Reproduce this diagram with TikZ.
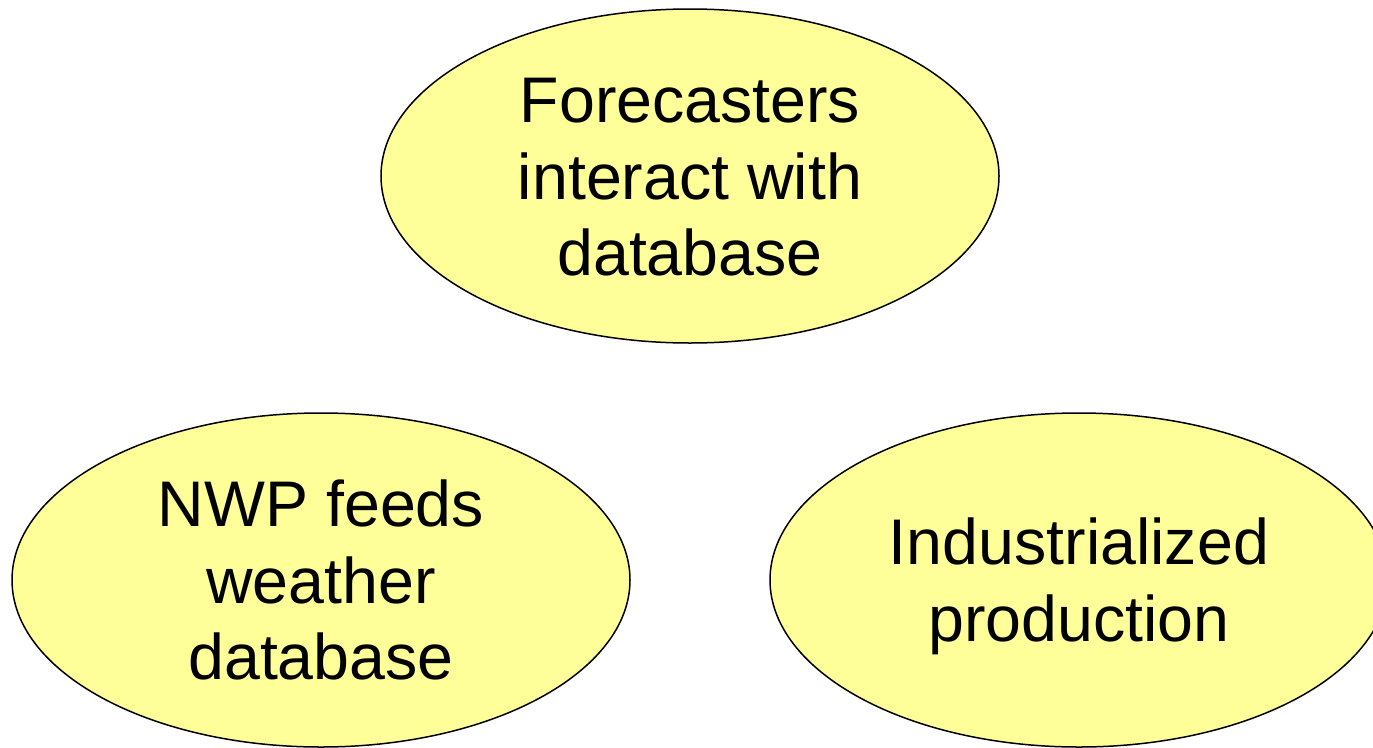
\documentclass[tikz,border=0pt]{standalone}
\usepackage{fontspec}
\setmainfont{Liberation Sans}
\usetikzlibrary{shapes.geometric}
\definecolor{paleyellow}{HTML}{FFFF99}
% The text box's baseline is its last line; its height runs from the cap line of
% the first line (cap height 46.2pt) down over (lines-1) baselineskips of 76.5pt.
\tikzset{
  bubble/.style={ellipse, draw=black, line width=1.5pt, fill=paleyellow,
    minimum width=618pt, minimum height=334pt, inner sep=0pt,
    align=center, font=\fontsize{64.5}{76.5}\selectfont, text depth=0pt},
  two lines/.style={text height=122.7pt},
  three lines/.style={text height=199.2pt}
}
\begin{document}
\begin{tikzpicture}[x=1pt, y=-1pt]
  \useasboundingbox (0,0) rectangle (1373,747);
  \node[bubble, three lines] (forecasters) at (690,176) {Forecasters\\interact with\\database};
  \node[bubble, three lines] (nwp) at (321,580) {NWP feeds\\weather\\database};
  \node[bubble, two lines] (industrial) at (1079,580) {Industrialized\\production};
\end{tikzpicture}
\end{document}
